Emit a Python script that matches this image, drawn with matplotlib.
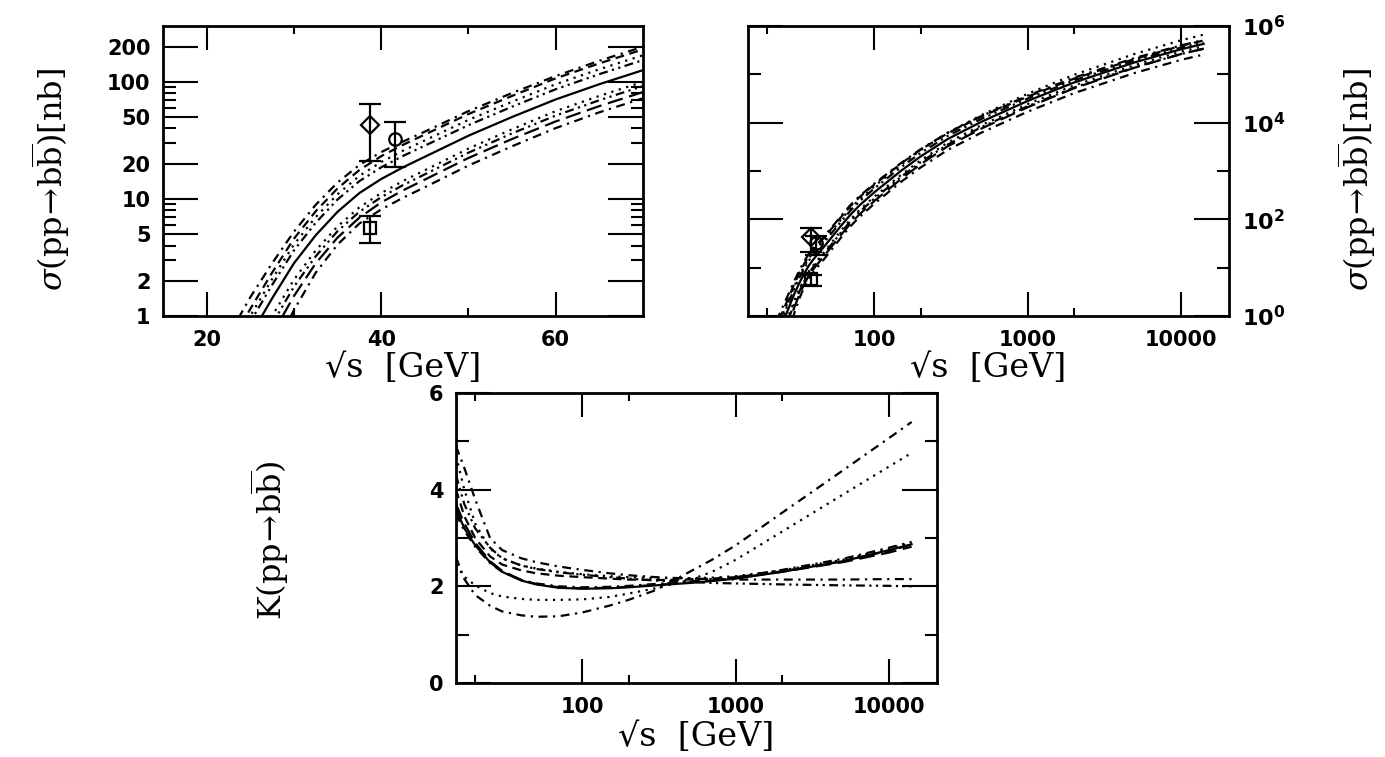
import matplotlib
matplotlib.use('Agg')
import matplotlib.pyplot as plt
from matplotlib.ticker import NullFormatter

# b bbar cross sections in pp, sqrt(s) in GeV, sigma in nb
sqrts = [20, 22.5, 25, 27.5, 30, 32.5, 35, 37.5, 40, 42.5, 45, 50, 55, 60, 65, 70, 80, 100,
         150, 200, 300, 500, 1000, 2000, 5000, 10000, 14000]

sig_central = [0.141, 0.316, 0.676, 1.413, 2.818, 4.898, 7.762, 11.22, 14.79, 18.62, 22.91, 34.67, 50.12,
               70.79, 95.50, 125.9, 195.0, 363.1, 1023, 1995, 4571, 10470, 28180, 67610, 177800, 331100, 426600]
sig_u1 = [0.302, 0.676, 1.445, 2.818, 5.248, 8.913, 13.80, 19.50, 25.12, 30.90, 37.58, 56.23, 80.35,
          112.2, 151.4, 199.5, 302.0, 549.5, 1479, 2818, 6166, 13800, 36310, 85110, 218800, 398100, 512900]
sig_u2 = [0.240, 0.537, 1.148, 2.344, 4.571, 7.852, 12.30, 17.66, 23.17, 28.97, 35.48, 53.09, 75.86,
          107.2, 143.9, 189.2, 288.4, 524.8, 1445, 2754, 6026, 13490, 34670, 81280, 208900, 389000, 501200]
sig_u3 = [0.209, 0.468, 1.0, 2.065, 4.074, 7.000, 10.96, 15.74, 20.65, 25.82, 31.62, 47.32, 67.61,
          95.50, 128.2, 168.7, 260.0, 484.2, 1365, 2692, 6166, 14450, 39810, 97720, 266100, 507000, 660700]
sig_u4 = [0.186, 0.417, 0.891, 1.841, 3.631, 6.266, 9.886, 14.19, 18.62, 23.28, 28.51, 42.66, 61.38,
          86.50, 116.4, 153.5, 237.1, 436.5, 1216, 2344, 5309, 12020, 31620, 74990, 195000, 358900, 457100]
sig_l1 = [0.100, 0.224, 0.479, 1.0, 2.042, 3.631, 5.821, 8.472, 11.22, 14.22, 17.58, 26.92, 39.36,
          56.23, 75.86, 100.0, 156.7, 295.1, 841.4, 1660, 3846, 8913, 24270, 58880, 156700, 295100, 380200]
sig_l2 = [0.0851, 0.191, 0.407, 0.851, 1.778, 3.236, 5.309, 7.762, 10.35, 13.12, 16.22, 24.83, 36.31,
          51.52, 69.66, 92.04, 142.9, 269.2, 767.4, 1514, 3508, 8128, 21880, 53090, 141300, 263000, 338800]
sig_l3 = [0.0692, 0.155, 0.331, 0.692, 1.479, 2.818, 4.677, 6.918, 9.333, 11.83, 14.62, 22.39, 32.51,
          45.92, 62.09, 81.85, 127.4, 239.9, 691.8, 1380, 3236, 7586, 20890, 51290, 138000, 263000, 338800]
sig_l4 = [0.0447, 0.100, 0.214, 0.479, 1.122, 2.344, 4.074, 6.166, 8.128, 10.23, 12.59, 19.28, 28.18,
          40.27, 54.95, 72.44, 112.2, 211.3, 602.6, 1180, 2716, 6252, 16900, 40740, 107200, 199500, 257000]

# K factors
sqrts_k = [15, 17, 20, 25, 30, 40, 50, 70, 100, 150, 200, 300, 500, 700, 1000, 2000, 5000, 10000, 14000]

k_central = [3.6, 3.2, 2.85, 2.5, 2.3, 2.12, 2.04, 1.97, 1.95, 1.96, 1.98, 2.02, 2.07, 2.11, 2.16, 2.30, 2.52, 2.75, 2.87]
k_longdash = [3.7, 3.3, 2.9, 2.52, 2.32, 2.13, 2.05, 1.98, 1.96, 1.97, 1.99, 2.03, 2.08, 2.12, 2.17, 2.30, 2.50, 2.70, 2.82]
k_dashdot_mid = [3.5, 3.15, 2.82, 2.48, 2.3, 2.13, 2.06, 2.0, 1.98, 1.99, 2.01, 2.05, 2.10, 2.14, 2.19, 2.34, 2.57, 2.80, 2.92]
k_dot_hi = [4.7, 4.0, 3.3, 2.78, 2.58, 2.43, 2.37, 2.30, 2.25, 2.21, 2.19, 2.17, 2.17, 2.18, 2.21, 2.33, 2.55, 2.78, 2.90]
k_dashdot_hi = [4.9, 4.45, 3.8, 3.0, 2.75, 2.58, 2.5, 2.41, 2.34, 2.27, 2.23, 2.19, 2.16, 2.15, 2.14, 2.14, 2.14, 2.15, 2.15]
k_dashdotdot_hi = [4.3, 3.7, 3.2, 2.8, 2.58, 2.43, 2.36, 2.29, 2.24, 2.19, 2.16, 2.12, 2.09, 2.07, 2.06, 2.04, 2.02, 2.01, 2.0]
k_dot_lo = [2.45, 2.2, 2.02, 1.86, 1.79, 1.74, 1.72, 1.72, 1.73, 1.78, 1.85, 1.96, 2.13, 2.3, 2.55, 3.13, 3.90, 4.48, 4.76]
k_dashdot_lo = [2.6, 2.15, 1.82, 1.6, 1.48, 1.40, 1.37, 1.38, 1.46, 1.60, 1.72, 1.92, 2.3, 2.55, 2.85, 3.52, 4.40, 5.07, 5.4]
k_dashed_hi = [4.0, 3.45, 3.0, 2.62, 2.45, 2.33, 2.27, 2.22, 2.19, 2.16, 2.14, 2.13, 2.14, 2.16, 2.19, 2.31, 2.52, 2.74, 2.86]

# measured points
data_x = [38.7, 41.6, 38.7]
data_y = [43.2, 32.6, 5.7]
data_lo = [20.9, 18.6, 4.2]
data_hi = [65.0, 45.5, 7.2]
data_marker = ['D', 'o', 's']

SOLID = '-'
DASH = (0, (4, 2.5))
LDASH = (0, (7, 3))
DOT = (0, (1, 2.5))
DASHDOT = (0, (4, 2.5, 1, 2.5))
DASHDOTDOT = (0, (4, 2, 1, 2, 1, 2))

sig_curves = [(sig_u1, DASHDOT), (sig_u2, DASH), (sig_u3, DOT), (sig_u4, DASHDOTDOT),
              (sig_central, SOLID),
              (sig_l1, DOT), (sig_l2, DASHDOTDOT), (sig_l3, LDASH), (sig_l4, DASHDOT)]
k_curves = [(k_central, SOLID), (k_longdash, LDASH), (k_dashdot_mid, DASHDOT),
            (k_dot_hi, DOT), (k_dashdot_hi, DASHDOT), (k_dashdotdot_hi, DASHDOTDOT),
            (k_dot_lo, DOT), (k_dashdot_lo, DASHDOT), (k_dashed_hi, DASH)]

W, H = 1385.0, 757.0
fig = plt.figure(figsize=(W / 100, H / 100), dpi=100)


def box(x0, x1, y0, y1):
    return [x0 / W, 1 - y1 / H, (x1 - x0) / W, (y1 - y0) / H]


SERIF = ['DejaVu Serif', 'DejaVu Sans']
SIGLAB = r'$\sigma(\mathrm{pp}\!\rightarrow\!\mathrm{b}\overline{\mathrm{b}})[\mathrm{nb}]$'
KLAB = r'$\mathrm{K}(\mathrm{pp}\!\rightarrow\!\mathrm{b}\overline{\mathrm{b}})$'
XLAB = '\u221as  [GeV]'


def frame(ax):
    for s in ax.spines.values():
        s.set_linewidth(2.0)
    ax.tick_params(which='both', direction='in', top=True, right=True, width=1.5, colors='black')
    ax.tick_params(axis='y', which='major', length=25, pad=9)
    ax.tick_params(axis='y', which='minor', length=9)
    ax.tick_params(axis='x', which='major', length=17, pad=10)
    ax.tick_params(axis='x', which='minor', length=6)


def draw_data(ax):
    for x, y, lo, hi, m in zip(data_x, data_y, data_lo, data_hi, data_marker):
        ax.errorbar([x], [y], yerr=[[y - lo], [hi - y]], fmt=m, mfc='none', mec='black',
                    ms=9 if m != 's' else 8, mew=1.6, ecolor='black', elinewidth=1.6,
                    capsize=8, capthick=1.6, zorder=5)


def xlabel(ax, ypos):
    ax.set_xlabel(XLAB, fontsize=24, family=SERIF)
    ax.xaxis.label.set_verticalalignment('center')
    ax.xaxis.set_label_coords(0.5, ypos)


TICK = dict(fontsize=15, fontweight='bold', family='DejaVu Sans')

# top left: linear sqrt(s), 15-70 GeV
ax1 = fig.add_axes(box(163, 643, 26, 316))
for vals, ls in sig_curves:
    ax1.plot(sqrts, vals, color='black', lw=1.6, linestyle=ls)
draw_data(ax1)
ax1.set_yscale('log')
ax1.set_xlim(15, 70)
ax1.set_ylim(1, 300)
ax1.set_xticks([20, 40, 60], ['20', '40', '60'], **TICK)
ax1.set_xticks([30, 50], minor=True)
ax1.set_yticks([1, 2, 5, 10, 20, 50, 100, 200],
               ['1', '2', '5', '10', '20', '50', '100', '200'], **TICK)
ax1.set_yticks([3, 4, 6, 7, 8, 9, 30, 40, 60, 70, 80, 90], minor=True)
ax1.yaxis.set_minor_formatter(NullFormatter())
frame(ax1)
ax1.set_ylabel(SIGLAB, fontsize=23, math_fontfamily='dejavuserif')
ax1.yaxis.label.set_verticalalignment('center')
ax1.yaxis.set_label_coords(-0.235, 0.47)
xlabel(ax1, -0.18)

# top right: log sqrt(s) up to LHC
ax2 = fig.add_axes(box(748, 1229, 26, 316))
for vals, ls in sig_curves:
    ax2.plot(sqrts, vals, color='black', lw=1.6, linestyle=ls)
draw_data(ax2)
ax2.set_xscale('log')
ax2.set_yscale('log')
ax2.set_xlim(15, 20500)
ax2.set_ylim(1, 1e6)
ax2.set_xticks([100, 1000, 10000], ['100', '1000', '10000'], **TICK)
ax2.set_xticks([20, 200, 2000], minor=True)
ax2.xaxis.set_minor_formatter(NullFormatter())
ax2.set_yticks([1, 1e2, 1e4, 1e6],
               [r'$\mathbf{10^{0}}$', r'$\mathbf{10^{2}}$', r'$\mathbf{10^{4}}$', r'$\mathbf{10^{6}}$'],
               fontsize=16, math_fontfamily='dejavusans')
ax2.set_yticks([10, 1e3, 1e5], minor=True)
ax2.yaxis.set_minor_formatter(NullFormatter())
frame(ax2)
ax2.tick_params(axis='y', which='both', labelleft=False, labelright=True)
ax2.yaxis.set_label_position('right')
ax2.set_ylabel(SIGLAB, fontsize=23, math_fontfamily='dejavuserif', rotation=90)
ax2.yaxis.label.set_verticalalignment('center')
ax2.yaxis.set_label_coords(1.265, 0.47)
xlabel(ax2, -0.18)

# bottom: K factor
ax3 = fig.add_axes(box(456, 937, 393, 683))
for vals, ls in k_curves:
    ax3.plot(sqrts_k, vals, color='black', lw=1.6, linestyle=ls)
ax3.set_xscale('log')
ax3.set_xlim(15, 20500)
ax3.set_ylim(0, 6)
ax3.set_xticks([100, 1000, 10000], ['100', '1000', '10000'], **TICK)
ax3.set_xticks([20, 200, 2000], minor=True)
ax3.xaxis.set_minor_formatter(NullFormatter())
ax3.set_yticks([0, 2, 4, 6], ['0', '2', '4', '6'], **TICK)
ax3.set_yticks([1, 3, 5], minor=True)
frame(ax3)
ax3.set_ylabel(KLAB, fontsize=23, math_fontfamily='dejavuserif')
ax3.yaxis.label.set_verticalalignment('center')
ax3.yaxis.set_label_coords(-0.387, 0.49)
xlabel(ax3, -0.185)

fig.savefig('out.png', dpi=100)
